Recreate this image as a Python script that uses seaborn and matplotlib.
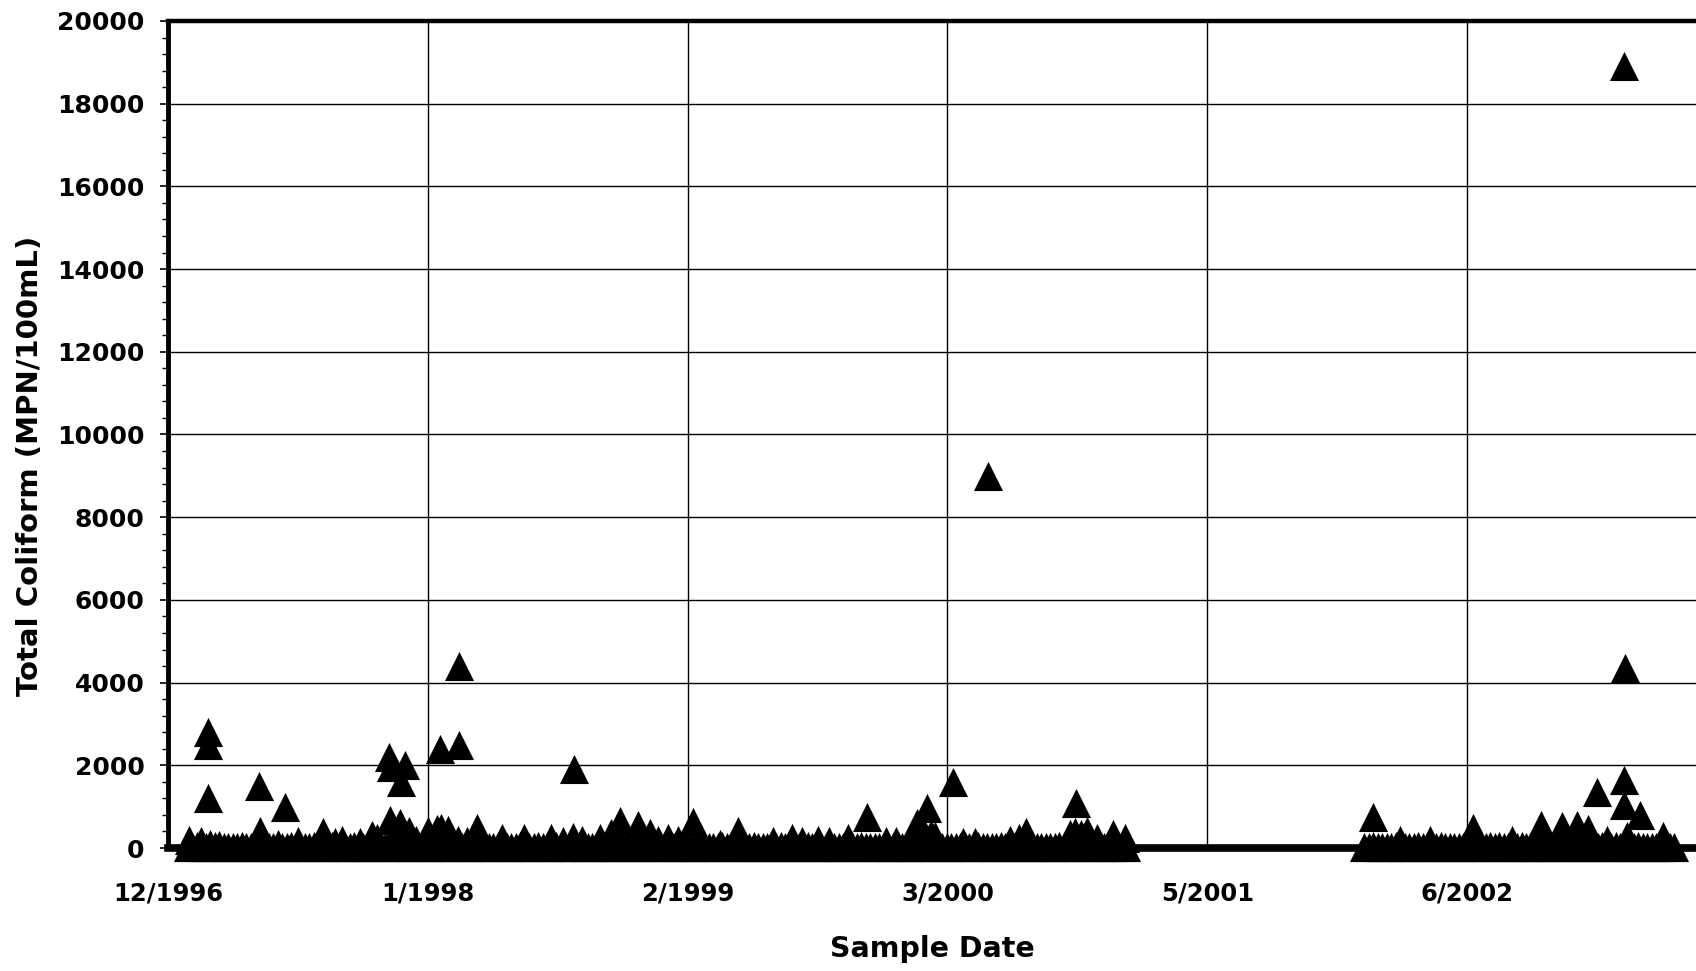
import matplotlib
matplotlib.use("Agg")
import matplotlib.pyplot as plt
import matplotlib.ticker as mticker
import seaborn as sns
import pandas as pd

# ---------------- data ----------------
# routine weekly samples (low counts) - period 1 and period 2
base1_start = "1997-01-01"
base1_values = [
    20, 30, 40, 30, 20, 30, 40, 20, 30, 20,
    30, 20, 40, 30, 20, 20, 30, 40, 20, 30,
    20, 30, 20, 40, 30, 20, 30, 20, 40, 30,
    20, 30, 40, 20, 30, 20, 30, 40, 30, 20,
    30, 20, 30, 40, 20, 30, 20, 40, 30, 20,
    30, 40, 20, 30, 20, 30, 40, 20, 30, 20,
    40, 30, 20, 30, 20, 40, 30, 20, 30, 40,
    20, 30, 20, 30, 40, 20, 30, 20, 40, 30,
    20, 30, 40, 20, 30, 20, 30, 40, 20, 30,
    30, 20, 40, 30, 20, 30, 20, 40, 30, 20,
    20, 30, 20, 40, 30, 20, 30, 40, 20, 30,
    30, 20, 30, 20, 40, 30, 20, 30, 20, 40,
    20, 40, 30, 20, 30, 20, 40, 30, 20, 30,
    30, 20, 40, 30, 20, 30, 20, 30, 40, 20,
    20, 30, 20, 40, 30, 20, 30, 20, 40, 30,
    40, 20, 30, 20, 30, 40, 20, 30, 20, 30,
    20, 30, 40, 30, 20, 30, 20, 40, 30, 20,
    30, 20, 30, 40, 20, 30, 40, 20, 30, 20,
    20, 40, 30, 20, 30, 20, 30, 40, 20, 30,
    30, 20, 20, 30, 40, 30, 20, 30, 20, 40,
    20, 30, 40, 20, 30, 20, 30, 40, 30, 20,
]
base2_start = "2002-01-09"
base2_values = [
    20, 30, 40, 20, 30, 20, 30, 40, 20, 30,
    30, 20, 40, 30, 20, 30, 20, 40, 30, 20,
    20, 30, 20, 40, 30, 20, 30, 20, 40, 30,
    40, 20, 30, 20, 30, 40, 20, 30, 20, 30,
    20, 30, 40, 30, 20, 30, 20, 40, 30, 20,
    30, 20, 30, 40, 20, 30, 40, 20, 30, 20,
    20, 40, 30, 20, 30, 20, 30, 40, 20, 30,
]

# moderately elevated samples
peak_dates = [
    "1997-01-03", "1997-01-22", "1997-02-04", "1997-02-19", "1997-04-23",
    "1997-05-22", "1997-06-22", "1997-07-30", "1997-08-18", "1997-08-30",
    "1997-09-26", "1997-10-15", "1997-10-23", "1997-11-12", "1997-11-28",
    "1997-12-11", "1997-12-23", "1998-01-10", "1998-01-25", "1998-01-31",
    "1998-02-11", "1998-02-26", "1998-03-12", "1998-03-28", "1998-05-05",
    "1998-06-09", "1998-07-21", "1998-08-09", "1998-08-25", "1998-09-07",
    "1998-10-05", "1998-10-23", "1998-11-05", "1998-12-04", "1998-12-22",
    "1999-01-04", "1999-01-20", "1999-02-04", "1999-02-28", "1999-04-10",
    "1999-05-09", "1999-07-02", "1999-07-31", "1999-08-16", "1999-09-11",
    "1999-09-27", "1999-10-27", "1999-11-26", "1999-12-26", "2000-01-10",
    "2000-02-11", "2000-02-20", "2000-02-27", "2000-03-05", "2000-03-11",
    "2000-04-24", "2000-05-12", "2000-07-05", "2000-07-19", "2000-07-30",
    "2000-10-07", "2000-10-15", "2000-10-25", "2000-11-02", "2000-11-18",
    "2000-12-13", "2001-01-01",
    "2002-01-23", "2002-03-05", "2002-04-22", "2002-06-28", "2002-08-27",
    "2002-10-12", "2002-11-13", "2002-12-06", "2002-12-24", "2003-01-22",
    "2003-02-23", "2003-03-15", "2003-04-20",
]
peak_values = [
    200, 160, 100, 70, 400,
    100, 160, 380, 140, 200,
    150, 320, 240, 680, 600,
    400, 200, 400, 450, 480,
    440, 200, 160, 480, 240,
    240, 250, 180, 260, 200,
    240, 360, 660, 560, 360,
    200, 250, 200, 620, 100,
    400, 160, 240, 180, 200,
    180, 240, 760, 180, 180,
    600, 450, 960, 350, 300,
    150, 150, 200, 240, 390,
    330, 380, 350, 420, 250,
    340, 240,
    760, 200, 200, 480, 200,
    560, 540, 560, 450, 200,
    300, 800, 280,
]

# high-count samples
high_dates = [
    "1997-02-01", "1997-02-01", "1997-02-01", "1997-04-22", "1997-06-02",
    "1997-11-11", "1997-11-13", "1997-11-30", "1997-12-06", "1998-01-29",
    "1998-02-27", "1998-02-27", "1998-08-26", "2000-04-08", "2000-06-02",
    "2000-10-17", "2003-01-06", "2003-02-18", "2003-02-19", "2003-02-18",
    "2003-02-18",
]
high_values = [
    2800, 2500, 1200, 1500, 1000,
    2200, 1950, 1600, 2000, 2400,
    2500, 4400, 1900, 1600, 9000,
    1100, 1350, 18900, 4350, 1650,
    1050,
]

tick_dates = ["1996-12-01", "1998-01-10", "1999-02-19", "2000-03-30",
              "2001-05-09", "2002-06-18"]
tick_labels = ["12/1996", "1/1998", "2/1999", "3/2000", "5/2001", "6/2002"]
x_min, x_max = "1996-12-01", "2003-06-10"

# ---------------- build table ----------------
b1 = pd.DataFrame({"date": pd.date_range(base1_start, periods=len(base1_values), freq="7D"),
                   "value": base1_values})
b2 = pd.DataFrame({"date": pd.date_range(base2_start, periods=len(base2_values), freq="7D"),
                   "value": base2_values})
pk = pd.DataFrame({"date": pd.to_datetime(peak_dates), "value": peak_values})
hi = pd.DataFrame({"date": pd.to_datetime(high_dates), "value": high_values})
df = pd.concat([b1, b2, pk, hi], ignore_index=True)

# ---------------- style ----------------
sns.set_style("white")
plt.rcParams["font.family"] = ["DejaVu Sans"]
plt.rcParams["font.weight"] = "bold"
for key in ["text.color", "axes.labelcolor", "xtick.color", "ytick.color"]:
    plt.rcParams[key] = "black"

fig = plt.figure(figsize=(16.96, 9.71), dpi=100)
ax = fig.add_axes([168 / 1696, 123 / 971, 1 - 168 / 1696, (848 - 21) / 971])

sns.scatterplot(data=df, x="date", y="value", marker="^", s=440, color="black",
                linewidth=0, ax=ax, clip_on=False, zorder=4, legend=False)

ax.set_xlim(pd.Timestamp(x_min), pd.Timestamp(x_max))
ax.set_ylim(0, 20000)
ax.yaxis.set_major_locator(mticker.MultipleLocator(2000))
ax.yaxis.set_minor_locator(mticker.MultipleLocator(400))
ax.set_xticks(pd.to_datetime(tick_dates))
ax.set_xticklabels(tick_labels)

ax.grid(True, which="major", color="black", linewidth=1.0)
ax.set_axisbelow(True)

ax.tick_params(axis="y", which="major", direction="out", length=6, width=1.2,
               color="black", labelcolor="black", labelsize=18, pad=11, left=True)
ax.tick_params(axis="y", which="minor", direction="out", length=4, width=1.0,
               color="black", left=True)
ax.tick_params(axis="x", which="major", length=0, labelsize=17.5, pad=24,
               labelcolor="black")
for lab in ax.get_xticklabels() + ax.get_yticklabels():
    lab.set_fontweight("bold")

for side in ["left", "top", "bottom"]:
    ax.spines[side].set_visible(True)
    ax.spines[side].set_color("black")
    ax.spines[side].set_zorder(3)
ax.spines["left"].set_linewidth(3.5)
ax.spines["top"].set_linewidth(3.2)
ax.spines["bottom"].set_linewidth(5.5)
ax.spines["right"].set_visible(False)

ax.set_xlabel("Sample Date", fontsize=20.5, fontweight="bold", color="black")
ax.set_ylabel("Total Coliform (MPN/100mL)", fontsize=21, fontweight="bold",
              color="black")
ax.xaxis.label.set_va("center")
ax.yaxis.label.set_va("center")
ax.xaxis.set_label_coords(0.5, -0.122)
ax.yaxis.set_label_coords(-0.090, 0.462)

fig.savefig("out.png", dpi=100)
